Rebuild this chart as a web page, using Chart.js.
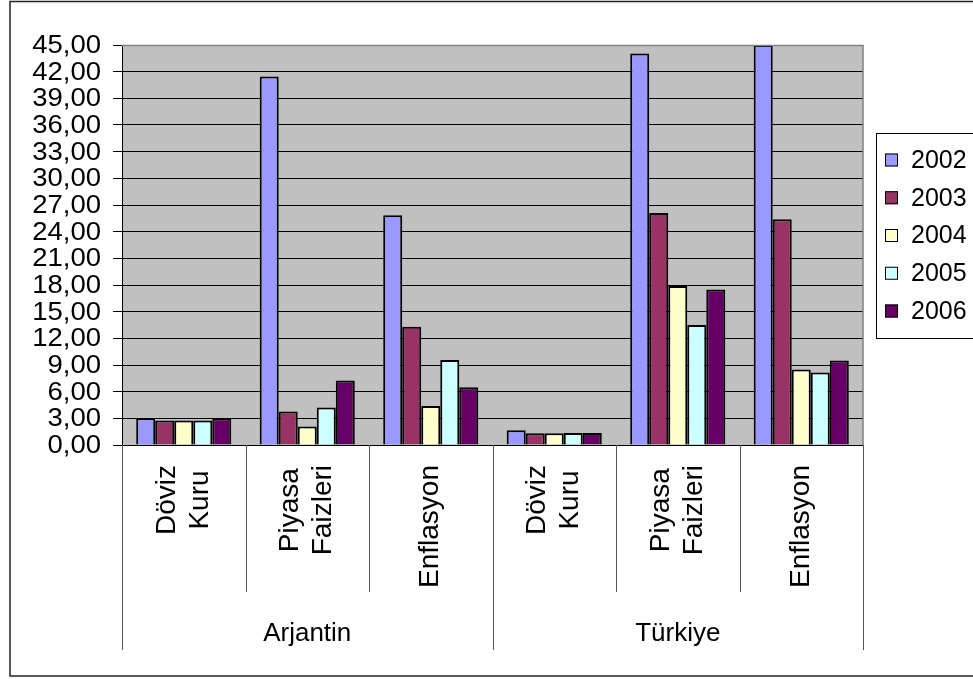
<!DOCTYPE html>
<html>
<head>
<meta charset="utf-8">
<script src="https://cdn.jsdelivr.net/npm/chart.js@4/dist/chart.umd.min.js"></script>
<style>
html,body{margin:0;padding:0;background:#fff;}
#wrap{width:973px;height:679px;position:relative;}
</style>
</head>
<body>
<div id="wrap"><canvas id="c" width="973" height="679"></canvas></div>
<script>
// ---- data ----
const groups = ['Arjantin', 'Türkiye'];
const indicatorLines = [['Döviz', 'Kuru'], ['Piyasa', 'Faizleri'], ['Enflasyon']];
const categories = ['Arjantin Döviz Kuru', 'Arjantin Piyasa Faizleri', 'Arjantin Enflasyon',
                    'Türkiye Döviz Kuru', 'Türkiye Piyasa Faizleri', 'Türkiye Enflasyon'];
const years = ['2002', '2003', '2004', '2005', '2006'];
const v2002 = [3.03, 41.45, 25.85, 1.65, 44.05, 45.00];
const v2003 = [2.75, 3.76, 13.30, 1.32, 26.10, 25.40];
const v2004 = [2.75, 2.07, 4.40, 1.33, 17.90, 8.50];
const v2005 = [2.75, 4.21, 9.55, 1.34, 13.50, 8.15];
const v2006 = [3.00, 7.25, 6.50, 1.34, 17.50, 9.50];
const yTicks = [0, 3, 6, 9, 12, 15, 18, 21, 24, 27, 30, 33, 36, 39, 42, 45];
const seriesColors = ['#9999FF', '#993366', '#FFFFCC', '#CCFFFF', '#660066'];

const FONT = '"Liberation Sans", Arial, sans-serif';
const seriesValues = [v2002, v2003, v2004, v2005, v2006];
const fmt = v => Number(v).toFixed(2).replace('.', ',');

const datasets = years.map((y, i) => ({
  label: y,
  data: seriesValues[i],
  backgroundColor: seriesColors[i],
  borderColor: '#000000',
  borderWidth: 2,
  borderSkipped: 'start',
  categoryPercentage: 0.77,
  barPercentage: 1.0
}));

const decorPlugin = {
  id: 'decor',
  beforeDraw(chart) {
    const ctx = chart.ctx, a = chart.chartArea;
    ctx.save();
    ctx.fillStyle = '#ffffff';
    ctx.fillRect(0, 0, chart.width, chart.height);
    ctx.fillStyle = '#C0C0C0';
    ctx.fillRect(a.left, a.top, a.right - a.left, a.bottom - a.top);
    ctx.restore();
  },
  afterDraw(chart) {
    const ctx = chart.ctx, a = chart.chartArea;
    const xs = chart.scales.x, ys = chart.scales.y;
    ctx.save();
    // plot area top/right edges
    ctx.strokeStyle = '#808080';
    ctx.lineWidth = 1.5;
    ctx.beginPath();
    ctx.moveTo(a.left, a.top + 0.5);
    ctx.lineTo(a.right, a.top + 0.5);
    ctx.lineTo(a.right, a.bottom);
    ctx.stroke();

    // y tick labels (slightly wide, as in the reference)
    ctx.fillStyle = '#000000';
    ctx.font = '25px ' + FONT;
    ctx.textAlign = 'right';
    ctx.textBaseline = 'middle';
    yTicks.forEach(v => {
      const y = ys.getPixelForValue(v);
      ctx.save();
      ctx.translate(101, y + 1);
      ctx.scale(1.1, 1);
      ctx.fillText(fmt(v), 0, 0);
      ctx.restore();
    });

    // category separators
    const n = categories.length;
    const catW = (a.right - a.left) / n;
    ctx.strokeStyle = '#555555';
    ctx.lineWidth = 1;
    for (let i = 0; i <= n; i++) {
      const x = Math.round(a.left + i * catW) + 0.5;
      const long = (i % 3 === 0);
      ctx.beginPath();
      ctx.moveTo(x, a.bottom);
      ctx.lineTo(x, long ? 650 : 592);
      ctx.stroke();
    }

    // rotated category labels
    ctx.font = '28px ' + FONT;
    ctx.textAlign = 'center';
    ctx.textBaseline = 'middle';
    const lineH = 33;
    const topY = 465;
    for (let i = 0; i < n; i++) {
      const lines = indicatorLines[i % 3];
      const cx = xs.getPixelForValue(i);
      const maxW = Math.max(...lines.map(t => ctx.measureText(t).width));
      ctx.save();
      ctx.translate(cx, topY);
      ctx.rotate(-Math.PI / 2);
      lines.forEach((t, j) => {
        ctx.fillText(t, -maxW / 2, (j - (lines.length - 1) / 2) * lineH);
      });
      ctx.restore();
    }

    // group labels
    ctx.font = '26px ' + FONT;
    ctx.textBaseline = 'alphabetic';
    groups.forEach((g, gi) => {
      const x0 = a.left + gi * 3 * catW, x1 = x0 + 3 * catW;
      ctx.fillText(g, (x0 + x1) / 2, 641);
    });

    // legend
    const lx = 876, ly = 133, lh = 205;
    ctx.strokeStyle = '#000000';
    ctx.lineWidth = 1;
    ctx.strokeRect(lx + 0.5, ly + 0.5, 200, lh);
    ctx.font = '25px ' + FONT;
    ctx.textAlign = 'left';
    ctx.textBaseline = 'middle';
    chart.data.datasets.forEach((ds, i) => {
      const cy = ly + 27 + 37.75 * i;
      ctx.fillStyle = ds.backgroundColor;
      ctx.fillRect(885, cy - 6.5, 13, 13);
      ctx.strokeRect(885.5, cy - 6, 12, 12);
      ctx.fillStyle = '#000000';
      ctx.fillText(ds.label, 911, cy + 1);
    });

    // outer border
    ctx.strokeStyle = '#222222';
    ctx.lineWidth = 1.5;
    ctx.strokeRect(10, 1.5, 1000, 674.5);
    ctx.restore();
  }
};

new Chart(document.getElementById('c'), {
  type: 'bar',
  data: { labels: categories, datasets },
  options: {
    responsive: false,
    animation: false,
    devicePixelRatio: 1,
    layout: { padding: { left: 0, top: 45, right: 110, bottom: 234 } },
    plugins: { legend: { display: false }, tooltip: { enabled: false } },
    scales: {
      x: {
        ticks: { display: false },
        grid: { display: false, drawTicks: false },
        border: { display: false },
        afterFit: s => { s.height = 0; }
      },
      y: {
        min: 0,
        max: 45,
        afterBuildTicks: s => { s.ticks = yTicks.map(v => ({ value: v })); },
        afterFit: s => { s.width = 122; },
        ticks: { display: false, autoSkip: false },
        grid: {
          color: ctx => (ctx.tick && ctx.tick.value === 45 ? '#808080' : '#000000'),
          lineWidth: 1,
          tickLength: 9,
          tickColor: '#000000'
        },
        border: { display: true, color: '#000000', width: 1 }
      }
    }
  },
  plugins: [decorPlugin]
});
</script>
</body>
</html>
